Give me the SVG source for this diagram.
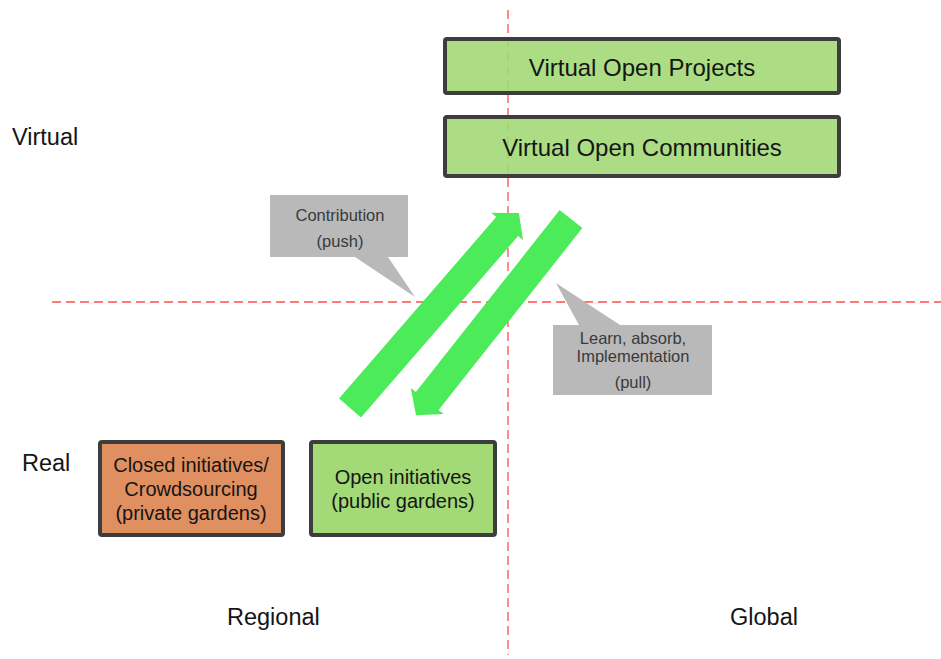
<svg xmlns="http://www.w3.org/2000/svg" width="941" height="659" viewBox="0 0 941 659">
<style>
.axis{stroke:#ff4d4d;stroke-width:1.3;stroke-dasharray:9 5;fill:none}
.box{stroke:#3d3d3d;stroke-width:4}
.green{fill:#a3d977}
.orange{fill:#e08f60}
.lbl{font-family:"Liberation Sans",Arial,sans-serif;fill:#151515}
.call{fill:#b9b9b9}
.ct{font-family:"Liberation Sans",Arial,sans-serif;font-size:16.5px;fill:#3a3a3a;text-anchor:middle}
.arrow{fill:#4ceb5a}
</style>
<rect width="941" height="659" fill="#fff"/>
<g id="axes">
<line class="axis" x1="508" y1="10" x2="508" y2="655"/>
<line class="axis" x1="52" y1="302" x2="941" y2="302"/>
</g>
<g id="axis-labels" class="lbl" font-size="23.5">
<text x="12" y="145">Virtual</text>
<text x="22" y="471">Real</text>
<text x="227" y="625">Regional</text>
<text x="730" y="625">Global</text>
</g>
<g id="node-vop">
<rect class="box green" x="445" y="39" width="394" height="54" rx="2" fill-opacity="0.9"/>
<text class="lbl" x="642" y="76" font-size="24" text-anchor="middle">Virtual Open Projects</text>
</g>
<g id="node-voc">
<rect class="box green" x="445" y="117" width="394" height="59" rx="2" fill-opacity="0.9"/>
<text class="lbl" x="642" y="156" font-size="24" text-anchor="middle">Virtual Open Communities</text>
</g>
<g id="node-closed">
<rect class="box orange" x="100" y="442" width="183" height="93" rx="2"/>
<text class="lbl" font-size="20" text-anchor="middle"><tspan x="191" y="472">Closed initiatives/</tspan><tspan x="191" y="496">Crowdsourcing</tspan><tspan x="191" y="520">(private gardens)</tspan></text>
</g>
<g id="node-open">
<rect class="box green" x="311" y="442" width="184" height="93" rx="2"/>
<text class="lbl" font-size="20" text-anchor="middle"><tspan x="403" y="484">Open initiatives</tspan><tspan x="403" y="508">(public gardens)</tspan></text>
</g>
<g id="connectors">
<polygon class="arrow" transform="translate(350,408) rotate(-49.1)" points="0,-14.5 240,-14.5 240,-21 258,0 240,21 240,14.5 0,14.5"/>
<polygon class="arrow" transform="translate(571,219) rotate(128.3)" points="0,-14.5 232,-14.5 232,-21 250,0 232,21 232,14.5 0,14.5"/>
</g>
<g id="callout-push">
<path class="call" d="M270,195 H408 V257 H388 L415,297 L355,257 H270 Z"/>
<text class="ct" x="340" y="221">Contribution</text>
<text class="ct" x="340" y="247">(push)</text>
</g>
<g id="callout-pull">
<path class="call" d="M553,325 H579 L556,283 L620,325 H712 V395 H553 Z"/>
<text class="ct" x="633" y="344">Learn, absorb,</text>
<text class="ct" x="633" y="362">Implementation</text>
<text class="ct" x="633" y="388">(pull)</text>
</g>
</svg>
